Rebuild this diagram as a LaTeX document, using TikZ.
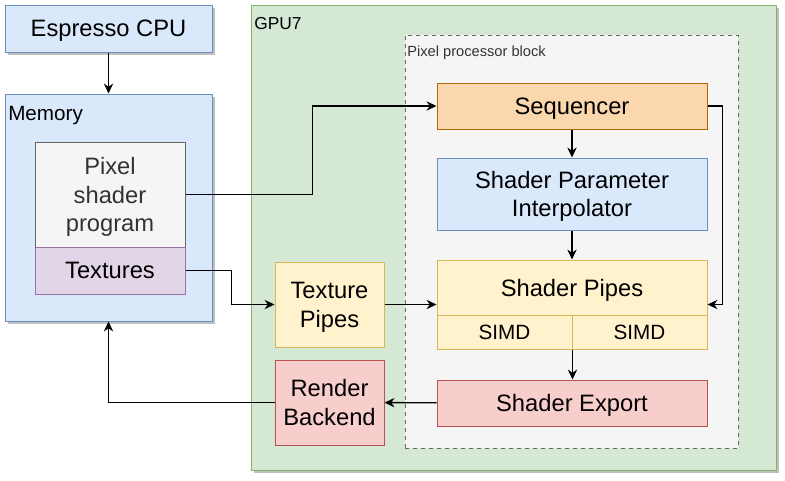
\documentclass[tikz,border=0pt]{standalone}
\usepackage{fontspec}
\setmainfont{Liberation Sans}
\usepackage{xcolor}
\usetikzlibrary{positioning,arrows.meta,calc,shadows}

\definecolor{bleuF}{HTML}{DAE8FC}
\definecolor{bleuT}{HTML}{6C8EBF}
\definecolor{grisF}{HTML}{F5F5F5}
\definecolor{grisT}{HTML}{666666}
\definecolor{grisTxt}{HTML}{333333}
\definecolor{violetF}{HTML}{E1D5E7}
\definecolor{violetT}{HTML}{9673A6}
\definecolor{vertF}{HTML}{D5E8D4}
\definecolor{vertT}{HTML}{82B366}
\definecolor{orangeF}{HTML}{FAD7AC}
\definecolor{orangeT}{HTML}{B46504}
\definecolor{jauneF}{HTML}{FFF2CC}
\definecolor{jauneT}{HTML}{D6B656}
\definecolor{rougeF}{HTML}{F8CECC}
\definecolor{rougeT}{HTML}{B85450}

\begin{document}
\begin{tikzpicture}[x=0.75pt, y=-0.75pt,
  bloc/.style={draw, line width=0.75pt, inner sep=0pt, align=center, text depth=0pt, font=\fontsize{17.8}{21.5}\selectfont},
  ombre/.style={drop shadow={shadow xshift=2.25pt, shadow yshift=-2.25pt, fill=black!25, opacity=1}},
  fleche/.style={line width=1pt, -{Stealth[length=7.5pt, width=7pt, inset=2.5pt]}}]
  \useasboundingbox (0,0) rectangle (785,480);

  % GPU7 et bloc des pixels
  \node[bloc, fill=vertF, draw=vertT, ombre, minimum width=393.75pt, minimum height=348.75pt] (gpu) at (513.5,237.5) {};
  \node[anchor=west, inner sep=0pt, font=\fontsize{13}{15}\selectfont] (gpulbl) at (254,24) {GPU7};
  \node[bloc, fill=grisF, draw=grisT, dashed, minimum width=249.75pt, minimum height=309.75pt] (ppb) at (571.5,241.5) {};
  \node[anchor=west, inner sep=0pt, text=grisTxt, font=\fontsize{11}{13}\selectfont] (ppblbl) at (407,53) {Pixel processor block};

  % Processeur et memoire
  \node[bloc, fill=bleuF, draw=bleuT, ombre, minimum width=155.25pt, minimum height=35.25pt] (cpu) at (108.5,28.5) {Espresso CPU};
  \node[bloc, fill=bleuF, draw=bleuT, ombre, minimum width=155.25pt, minimum height=170.25pt] (mem) at (108.5,207.5) {};
  \node[anchor=west, inner sep=0pt, font=\fontsize{15.5}{18}\selectfont] (memlbl) at (8,116) {Memory};
  \node[bloc, fill=grisF, draw=grisT, text=grisTxt, minimum width=112.5pt, minimum height=78.75pt] (prog) at (110,194.5) {Pixel\\shader\\program};
  \node[bloc, fill=violetF, draw=violetT, minimum width=112.5pt, minimum height=35.25pt] (tex) at (110,270.5) {Textures};

  % Etages du pipeline
  \node[bloc, fill=orangeF, draw=orangeT, minimum width=202.5pt, minimum height=34.5pt] (seq) at (572,106) {Sequencer};
  \node[bloc, fill=bleuF, draw=bleuT, minimum width=202.5pt, minimum height=54pt] (spi) at (572,194) {Shader Parameter\\Interpolator};
  \node[bloc, fill=jauneF, draw=jauneT, minimum width=202.5pt, minimum height=41.25pt] (pipes) at (572,287.5) {Shader Pipes};
  \foreach \x/\n in {504.5/simda, 639.5/simdb} {
    \node[bloc, fill=jauneF, draw=jauneT, minimum width=101.25pt, minimum height=25.5pt, font=\fontsize{15.5}{18}\selectfont] (\n) at (\x,332) {SIMD};
  }
  \node[bloc, fill=rougeF, draw=rougeT, minimum width=202.5pt, minimum height=34.5pt] (export) at (572,403) {Shader Export};
  \node[bloc, fill=jauneF, draw=jauneT, minimum width=81.75pt, minimum height=63.75pt] (tpipes) at (329.5,304.5) {Texture\\Pipes};
  \node[bloc, fill=rougeF, draw=rougeT, minimum width=81.75pt, minimum height=63.75pt] (rb) at (329.5,402.5) {Render\\Backend};

  % Connexions
  \draw[fleche] (cpu) -- (mem);
  \draw[fleche] (prog.east) -- ++(127,0) |- (seq.west);
  \draw[fleche] (tex.east) -- ++(46,0) |- (tpipes.west);
  \draw[fleche] (tpipes.east) -- (tpipes.east -| pipes.west);
  \draw[fleche] (seq.east) -- ++(15,0) |- (tpipes.east -| pipes.east);
  \draw[fleche] (seq) -- (spi);
  \draw[fleche] (spi) -- (pipes);
  \draw[fleche] (simda.south east) -- (simda.south east |- export.north);
  \draw[fleche] (export) -- (rb);
  \draw[fleche] (rb.west) -| (mem.south);
\end{tikzpicture}
\end{document}
